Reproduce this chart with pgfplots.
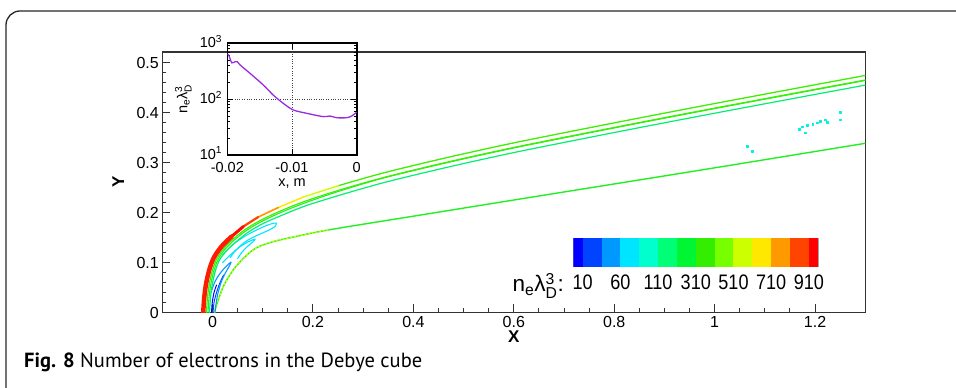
\documentclass[border=0pt]{standalone}
\usepackage{pgfplots}
\pgfplotsset{compat=1.18}
\usepackage{fontspec}
\usepackage{amsmath}
\setmainfont{Liberation Sans}
\newfontfamily\capfont{PT Sans}
\newfontfamily\cbfont{Liberation Sans}[FakeStretch=0.86]
\definecolor{cb1}{HTML}{0000FF}
\definecolor{cb2}{HTML}{0044FF}
\definecolor{cb3}{HTML}{0099FF}
\definecolor{cb4}{HTML}{00E5FF}
\definecolor{cb5}{HTML}{00FFCC}
\definecolor{cb6}{HTML}{00FF77}
\definecolor{cb7}{HTML}{00F533}
\definecolor{cb8}{HTML}{33EE00}
\definecolor{cb9}{HTML}{77FF00}
\definecolor{cb10}{HTML}{CCFF00}
\definecolor{cb11}{HTML}{FFE800}
\definecolor{cb12}{HTML}{FF9900}
\definecolor{cb13}{HTML}{FF4400}
\definecolor{cb14}{HTML}{FF0000}
\definecolor{lgreen}{HTML}{3CF000}
\definecolor{lgreen2}{HTML}{22F022}
\definecolor{spring}{HTML}{00F070}
\definecolor{purp}{HTML}{9A2BE0}
\begin{document}
\begin{tikzpicture}[x=1pt,y=1pt]
\useasboundingbox (0,0) rectangle (956,388);
% figure frame
\draw[line width=1.3pt, black!85, rounded corners=14pt] (6,-20) -- (6,377) -- (990,377);
% ---------------- main axis ----------------
\begin{axis}[at={(162.3pt,75.5pt)}, anchor=south west, scale only axis,
  width=703pt, height=260.5pt,
  xmin=-0.1, xmax=1.3, ymin=0, ymax=0.522,
  xtick={0,0.2,0.4,0.6,0.8,1,1.2}, ytick={0,0.1,0.2,0.3,0.4,0.5},
  minor x tick num=3, minor y tick num=4,
  tick align=inside, xtick pos=bottom, ytick pos=left,
  major tick length=8pt, minor tick length=4pt,
  axis line style={line width=1.4pt, black!80},
  tick style={line width=1pt, black!80},
  ticklabel style={font=\fontsize{16}{19}\selectfont},
  /pgf/number format/assume math mode=true,
  xlabel={X}, ylabel={Y},
  xlabel style={font=\fontsize{17}{20}\selectfont\bfseries, at={(axis description cs:0.5,0)}, anchor=center, yshift=-24.5pt},
  ylabel style={font=\fontsize{17}{20}\selectfont\bfseries, at={(axis description cs:0,0.5)}, anchor=center, yshift=44pt},
  every axis plot/.append style={line join=round, line cap=round},
]
% inner edge and lower line D
\addplot[smooth, color=lgreen2, line width=1.4pt] coordinates {(0.004,0) (0.008,0.015) (0.0215,0.052) (0.041,0.085) (0.065,0.112) (0.088,0.13) (0.121,0.142) (0.16,0.151) (0.234,0.166) (0.4,0.193) (0.61,0.227) (0.97,0.285) (1.3,0.339) (1.35,0.347)};
\addplot[smooth, color=cb10, line width=1.4pt, dash pattern=on 1.2pt off 2.5pt] coordinates {(0.004,0) (0.008,0.015) (0.0215,0.052) (0.041,0.085) (0.065,0.112) (0.088,0.13) (0.121,0.142) (0.16,0.151) (0.234,0.166)};
% blue strands near nose
\addplot[smooth, color=cb1, line width=1pt] coordinates {(-0.002,0) (-0.0005,0.02) (0.003,0.04) (0.008,0.055)};
\addplot[smooth, color=cb2, line width=1pt] coordinates {(0.001,0) (0.003,0.02) (0.008,0.04) (0.015,0.06) (0.022,0.075)};
\addplot[smooth, color=cb3, line width=1.1pt] coordinates {(-0.003,0.04) (0.004,0.06) (0.012,0.074) (0.022,0.087) (0.032,0.097) (0.037,0.101) (0.034,0.094) (0.026,0.08) (0.017,0.06) (0.01,0.035) (0.006,0.01) (0.005,0)};
% cyan loops
\addplot[smooth, color=cb4, line width=1.1pt] coordinates {(0.02,0.1) (0.035,0.115) (0.055,0.132) (0.072,0.142) (0.085,0.147) (0.08,0.141) (0.068,0.131) (0.058,0.12) (0.05,0.108)};
\addplot[smooth, color=cb4, line width=1.1pt] coordinates {(0.02,0.115) (0.04,0.136) (0.07,0.156) (0.1,0.171) (0.118,0.178) (0.127,0.179) (0.124,0.172) (0.11,0.164) (0.09,0.155) (0.072,0.146) (0.058,0.136) (0.045,0.123) (0.035,0.11)};
% spring-green line C
\addplot[smooth, color=spring, line width=1.2pt] coordinates {(-0.006,0) (-0.0041,0.0284) (-0.0003,0.0571) (0.0063,0.0854) (0.0141,0.1055) (0.0281,0.1241) (0.047,0.1416) (0.0702,0.1602) (0.0984,0.1771) (0.1376,0.1946) (0.1864,0.2141) (0.2559,0.2359) (0.3352,0.2587) (0.4146,0.2785) (0.5046,0.2995) (0.6141,0.3234) (0.8039,0.3614) (0.9737,0.3943) (1.1536,0.4283) (1.3036,0.4563) (1.3536,0.4653)};
% green line B2
\addplot[smooth, color=lgreen2, line width=1.1pt] coordinates {(-0.009,0) (-0.0071,0.0287) (-0.0032,0.0577) (0.0034,0.0862) (0.0115,0.1069) (0.025,0.1267) (0.0436,0.1453) (0.0674,0.1643) (0.0961,0.1815) (0.1352,0.2001) (0.1844,0.2198) (0.2535,0.2435) (0.3329,0.2674) (0.4125,0.2873) (0.5025,0.3083) (0.6122,0.3322) (0.8021,0.3702) (0.972,0.4032) (1.152,0.4372) (1.302,0.4652) (1.352,0.4742)};
% green line B
\addplot[smooth, color=lgreen, line width=1.2pt] coordinates {(-0.012,0) (-0.0101,0.029) (-0.0062,0.0582) (0.0006,0.0871) (0.0088,0.1083) (0.0227,0.1286) (0.0416,0.1475) (0.0657,0.1668) (0.0947,0.1842) (0.134,0.2028) (0.1834,0.2226) (0.2529,0.2454) (0.3326,0.2683) (0.4123,0.2883) (0.5023,0.3093) (0.612,0.3332) (0.8019,0.3712) (0.9718,0.4042) (1.1518,0.4382) (1.3018,0.4662) (1.3518,0.4752)};
% outer line A, coloured in segments
\addplot[smooth, color=lgreen, line width=1.3pt] coordinates {(0.2503,0.254) (0.3303,0.277) (0.4102,0.297) (0.5002,0.318) (0.6102,0.342) (0.8002,0.38) (0.9702,0.413) (1.1502,0.447) (1.3002,0.475) (1.3502,0.484)};
\addplot[smooth, color=cb10, line width=1.4pt] coordinates {(0.1803,0.2311) (0.2503,0.254)};
\addplot[smooth, color=cb11, line width=1.5pt] coordinates {(0.1308,0.2102) (0.1803,0.2311)};
\addplot[smooth, color=cb12, line width=1.7pt] coordinates {(0.0909,0.1912) (0.1308,0.2102)};
\addplot[smooth, color=cb13, line width=2.2pt] coordinates {(0.0617,0.1725) (0.0909,0.1912)};
\addplot[smooth, color=cb14!85!cb13, line width=3pt] coordinates {(0.0377,0.152) (0.0617,0.1725)};
\addplot[smooth, color=cb13!40!cb14, line width=4.5pt] coordinates {(-0.0185,0) (-0.0165,0.0296) (-0.0125,0.0593) (-0.0055,0.0888) (0.0033,0.1111) (0.018,0.1324) (0.0377,0.152)};
% scattered cyan cells
\addplot[only marks, mark=square*, mark size=0.7pt, color=cb5!50!cb4, draw=none] coordinates {(1.25,0.401) (1.25,0.386) (1.22,0.386) (1.224,0.381) (1.21,0.383) (1.204,0.38) (1.195,0.377) (1.184,0.375) (1.174,0.372) (1.168,0.367) (1.18,0.36) (1.065,0.333) (1.075,0.323)};
\end{axis}
% ---------------- inset ----------------
\begin{axis}[at={(227.3pt,233pt)}, anchor=south west, scale only axis,
  width=129.4pt, height=111.7pt,
  xmin=-0.02, xmax=0, ymode=log, ymin=10, ymax=1000,
  scaled x ticks=false,
  xtick={-0.02,-0.01,0}, xticklabels={-0.02,-0.01,0},
  ytick={10,100,1000}, yticklabels={10\textsuperscript{1},10\textsuperscript{2},10\textsuperscript{3}},
  tick align=inside, tick pos=both,
  major tick length=6pt, minor tick length=3pt,
  grid=major, grid style={dotted, black!75, line width=0.7pt},
  axis line style={line width=1.6pt, black},
  tick style={line width=0.8pt, black},
  ticklabel style={font=\fontsize{14.5}{17}\selectfont, inner sep=0.5pt},
  xticklabel style={yshift=-6.5pt},
  yticklabel style={xshift=-4.5pt, yshift=2pt},
  xlabel={x, m},
  ylabel={n\(_{\text{e}}\)λ\(_{\text{D}}^{\text{3}}\)},
  xlabel style={font=\fontsize{14.5}{17}\selectfont, at={(axis description cs:0.5,0)}, anchor=center, yshift=-29pt},
  ylabel style={font=\fontsize{14.5}{17}\selectfont, at={(axis description cs:0,0.5)}, anchor=center, yshift=44pt},
]
\addplot[smooth, color=purp, line width=1.3pt] coordinates {(-0.02,650) (-0.0198,617) (-0.0196,540) (-0.0193,447) (-0.0188,468) (-0.01845,468) (-0.018,407) (-0.01649,290) (-0.01443,179) (-0.01289,118) (-0.01134,84) (-0.0098,64) (-0.00773,55.8) (-0.00516,48.6) (-0.00413,49.9) (-0.0031,46.5) (-0.00155,46.5) (-0.00077,49.9) (-0.0001,57) (0,58)};
\end{axis}
% ---------------- colour bar ----------------
\begin{axis}[at={(573.3pt,121.3pt)}, anchor=south west, scale only axis,
  width=245pt, height=28.4pt,
  xmin=0, xmax=13, ymin=0, ymax=1,
  ytick=\empty,
  xtick={0.5,2.5,4.5,6.5,8.5,10.5,12.5},
  xticklabels={10,60,110,310,510,710,910},
  major tick length=0pt,
  axis line style={draw=black!35, line width=0.5pt},
  xticklabel style={font=\cbfont\fontsize{21}{24}\selectfont, yshift=-4.5pt},
]
\addplot[fill=cb1, draw=none] coordinates {(0,1) (0.5,1)} \closedcycle;
\addplot[fill=cb2, draw=none] coordinates {(0.5,1) (1.5,1)} \closedcycle;
\addplot[fill=cb3, draw=none] coordinates {(1.5,1) (2.5,1)} \closedcycle;
\addplot[fill=cb4, draw=none] coordinates {(2.5,1) (3.5,1)} \closedcycle;
\addplot[fill=cb5, draw=none] coordinates {(3.5,1) (4.5,1)} \closedcycle;
\addplot[fill=cb6, draw=none] coordinates {(4.5,1) (5.5,1)} \closedcycle;
\addplot[fill=cb7, draw=none] coordinates {(5.5,1) (6.5,1)} \closedcycle;
\addplot[fill=cb8, draw=none] coordinates {(6.5,1) (7.5,1)} \closedcycle;
\addplot[fill=cb9, draw=none] coordinates {(7.5,1) (8.5,1)} \closedcycle;
\addplot[fill=cb10, draw=none] coordinates {(8.5,1) (9.5,1)} \closedcycle;
\addplot[fill=cb11, draw=none] coordinates {(9.5,1) (10.5,1)} \closedcycle;
\addplot[fill=cb12, draw=none] coordinates {(10.5,1) (11.5,1)} \closedcycle;
\addplot[fill=cb13, draw=none] coordinates {(11.5,1) (12.5,1)} \closedcycle;
\addplot[fill=cb14, draw=none] coordinates {(12.5,1) (13,1)} \closedcycle;
\end{axis}
\node[anchor=base east, inner sep=0pt, font=\fontsize{22.5}{26}\selectfont] at (564,96) {n\(_{\text{e}}\)λ\(_{\text{D}}^{\text{3}}\):};
% caption
\node[anchor=base west, inner sep=0pt, font=\capfont\fontsize{20.5}{24}\selectfont] at (24,20) {\textbf{Fig. 8} Number of electrons in the Debye cube};
\end{tikzpicture}
\end{document}
